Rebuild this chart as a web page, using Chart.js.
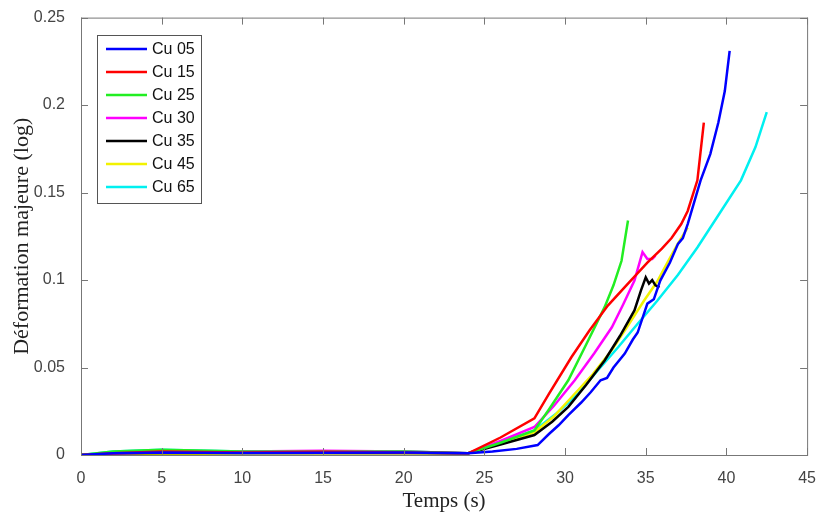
<!DOCTYPE html>
<html>
<head>
<meta charset="utf-8">
<script src="https://cdn.jsdelivr.net/npm/chart.js@4"></script>
<style>
 body{margin:0;background:#fff;}
 #wrap{width:822px;height:518px;}
</style>
</head>
<body>
<div id="wrap"><canvas id="myChart" width="822" height="518"></canvas></div>
<script>
// data: time (s) and strain for each sample
var labels = ["Cu 05","Cu 15","Cu 25","Cu 30","Cu 35","Cu 45","Cu 65"];
var colors = ["#0000ff","#ff0000","#22ee22","#ff00ff","#000000","#f2f200","#00f0f0"];

var t05 = [0,2,5,10,15,20,24,25.5,27,28.3,29,29.6,30.2,31,31.6,32.2,32.6,33,33.7,34.2,34.5,35.1,35.5,35.9,36.5,37,37.3,37.6,38.4,39,39.5,39.9,40.2];
var v05 = [0,0.001,0.0015,0.0012,0.0013,0.0015,0.001,0.002,0.0035,0.0057,0.012,0.017,0.0228,0.030,0.036,0.0427,0.044,0.050,0.058,0.066,0.070,0.0865,0.089,0.0997,0.11,0.1207,0.124,0.132,0.157,0.172,0.19,0.208,0.231];

var t15 = [0,2,5,10,15,20,24,26,28.1,29,30.4,31.5,32.65,33.8,35.1,36,36.6,37.2,37.6,38.2,38.6];
var v15 = [0,0.001,0.002,0.0015,0.0018,0.0015,0.001,0.010,0.0209,0.035,0.056,0.071,0.0854,0.097,0.110,0.118,0.124,0.132,0.1395,0.157,0.19];

var t25 = [0,2,5,10,15,20,24,26,28.1,29,30.2,31.3,32.45,33,33.5,33.9];
var v25 = [0,0.002,0.003,0.002,0.0018,0.002,0.001,0.007,0.014,0.026,0.0427,0.063,0.0845,0.097,0.111,0.134];

var t30 = [0,2,5,10,15,20,24,26,28.1,29.3,30.6,31.8,32.9,33.6,34.3,34.8,35.1,35.4,35.6];
var v30 = [0,0.001,0.0015,0.002,0.0025,0.002,0.001,0.008,0.016,0.028,0.0427,0.058,0.073,0.086,0.0997,0.116,0.112,0.112,0.114];

var t35 = [0,2,5,10,15,20,24,26,28.1,29.2,30.2,31.3,32.45,33.4,34.3,34.7,35.0,35.2,35.4,35.6,35.85];
var v35 = [0,0.001,0.0012,0.0012,0.0012,0.0012,0.001,0.006,0.0114,0.019,0.0275,0.040,0.054,0.068,0.0826,0.094,0.1015,0.098,0.10,0.097,0.0958];

var t45 = [0,2,5,10,15,20,24,26,28.1,29.3,30.4,31.7,32.9,33.9,34.9,35.7,36.4,37,37.6];
var v45 = [0,0.0005,0.0005,0.001,0.001,0.001,0.001,0.007,0.013,0.022,0.033,0.046,0.06,0.074,0.0883,0.099,0.111,0.121,0.13];

var t65 = [0,2,5,10,15,20,24,26,28.1,29.5,30.8,32,33.3,34.5,35.7,37,38.2,39.5,40.9,41.8,42.5];
var v65 = [0,0.002,0.003,0.002,0.002,0.002,0.001,0.007,0.014,0.024,0.035,0.048,0.0617,0.075,0.088,0.103,0.1186,0.137,0.157,0.176,0.196];

var xTicks = [0,5,10,15,20,25,30,35,40,45];
var yTicks = [0,0.05,0.1,0.15,0.2,0.25];

var times = [t05,t15,t25,t30,t35,t45,t65];
var vals = [v05,v15,v25,v30,v35,v45,v65];

function pts(t,v){
  var out=[];
  for(var i=0;i<t.length;i++) out.push({x:t[i],y:v[i]});
  return out;
}

var datasets=[];
for(var k=0;k<labels.length;k++){
  datasets.push({
    label:labels[k],
    data:pts(times[k],vals[k]),
    borderColor:colors[k],
    backgroundColor:colors[k],
    borderWidth:2.5,
    pointRadius:0,
    tension:0,
    fill:false
  });
}

var axisCol="#777";
var sans="'Liberation Sans', Arial, sans-serif";
var serif="'Liberation Serif', 'Times New Roman', serif";

// matlab style box with inward ticks
var boxPlugin={
  id:"box",
  afterDraw:function(chart){
    var ctx=chart.ctx, a=chart.chartArea;
    var xs=chart.scales.x, ys=chart.scales.y;
    ctx.save();
    ctx.strokeStyle=axisCol;
    ctx.lineWidth=1;
    ctx.strokeRect(a.left+0.5,a.top+0.5,a.right-a.left,a.bottom-a.top);
    ctx.beginPath();
    xTicks.forEach(function(v){
      var p=Math.round(xs.getPixelForValue(v))+0.5;
      ctx.moveTo(p,a.bottom);ctx.lineTo(p,a.bottom-7);
      ctx.moveTo(p,a.top);ctx.lineTo(p,a.top+7);
    });
    yTicks.forEach(function(v){
      var p=Math.round(ys.getPixelForValue(v))+0.5;
      ctx.moveTo(a.left,p);ctx.lineTo(a.left+7,p);
      ctx.moveTo(a.right,p);ctx.lineTo(a.right-7,p);
    });
    ctx.stroke();

    // legend inside the plot
    var lx=97, ly=35, lw=104, lh=168, row=23;
    ctx.fillStyle="#fff";
    ctx.fillRect(lx,ly,lw,lh);
    ctx.strokeStyle="#555";
    ctx.strokeRect(lx+0.5,ly+0.5,lw,lh);
    ctx.font="16px "+sans;
    ctx.textBaseline="middle";
    chart.data.datasets.forEach(function(d,i){
      var y=ly+14+i*row;
      ctx.strokeStyle=d.borderColor;
      ctx.lineWidth=2.5;
      ctx.beginPath();ctx.moveTo(lx+9,y);ctx.lineTo(lx+50,y);ctx.stroke();
      ctx.fillStyle="#111";
      ctx.fillText(d.label,lx+55,y+1);
    });
    ctx.restore();
  }
};

new Chart("myChart",{
  type:"line",
  data:{datasets:datasets},
  plugins:[boxPlugin],
  options:{
    responsive:false,
    animation:false,
    layout:{padding:{top:16,right:12,left:0,bottom:0}},
    plugins:{legend:{display:false},tooltip:{enabled:false}},
    scales:{
      x:{
        type:"linear",min:0,max:45,
        afterFit:function(s){s.height=63;},
        afterBuildTicks:function(s){s.ticks=xTicks.map(function(v){return {value:v};});},
        grid:{display:false},
        border:{display:false},
        ticks:{color:"#444",padding:6,font:{family:sans,size:16},maxRotation:0},
        title:{display:true,text:"Temps (s)",color:"#222",padding:{top:0},font:{family:serif,size:21}}
      },
      y:{
        type:"linear",min:0,max:0.25,
        afterFit:function(s){s.width=81;},
        afterBuildTicks:function(s){s.ticks=yTicks.map(function(v){return {value:v};});},
        grid:{display:false},
        border:{display:false},
        ticks:{color:"#444",padding:8,font:{family:sans,size:16},
          callback:function(v){return String(Math.round(v*100)/100);}},
        title:{display:true,text:"Déformation majeure (log)",color:"#222",padding:{top:9,bottom:0},font:{family:serif,size:22}}
      }
    }
  }
});
</script>
</body>
</html>
